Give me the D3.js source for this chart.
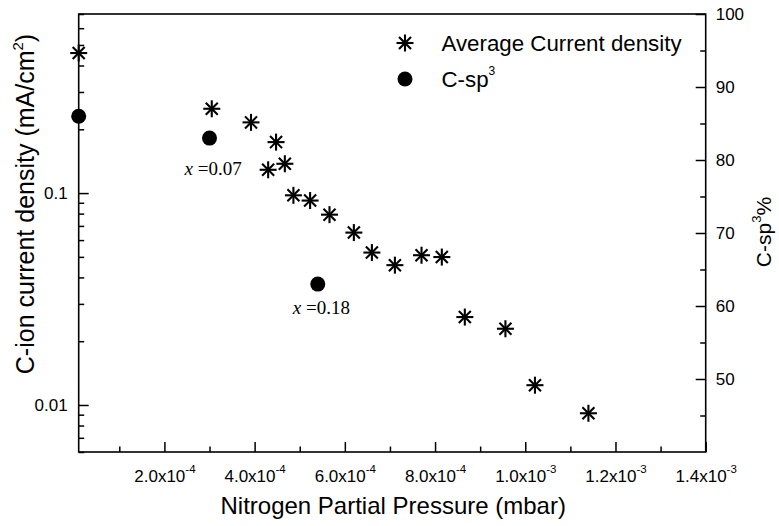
<!DOCTYPE html>
<html>
<head>
<meta charset="utf-8">
<script src="https://cdn.jsdelivr.net/npm/d3@7"></script>
<style>
  body { margin: 0; background: #fff; }
  text { font-family: "Liberation Sans", Arial, sans-serif; fill: #000; }
  .serif { font-family: "Liberation Serif", "Times New Roman", serif; }
</style>
</head>
<body>
<div id="chart"></div>
<script>
// average C-ion current density vs N2 partial pressure (left, log axis)
const pressure = [1.0e-5, 3.05e-4, 3.92e-4, 4.475e-4, 4.30e-4, 4.67e-4, 4.86e-4, 5.23e-4, 5.66e-4,
  6.20e-4, 6.60e-4, 7.11e-4, 7.70e-4, 8.15e-4, 8.66e-4, 9.56e-4, 1.0215e-3, 1.14e-3];
const currentDensity = [0.458, 0.250, 0.2156, 0.174, 0.1288, 0.1375, 0.0976, 0.0922, 0.0791,
  0.0651, 0.0524, 0.0457, 0.0509, 0.0499, 0.0260, 0.0229, 0.0124, 0.00914];

// C-sp3 fraction (right axis)
const sp3Pressure = [1.0e-5, 3.0e-4, 5.4e-4];
const sp3Percent = [86, 83, 63];
const sp3Notes = ['', '0.07', '0.18'];

const xMajor = [2e-4, 4e-4, 6e-4, 8e-4, 1.0e-3, 1.2e-3, 1.4e-3];
const xMinor = [1e-4, 3e-4, 5e-4, 7e-4, 9e-4, 1.1e-3, 1.3e-3];
const xMantissa = ['2.0', '4.0', '6.0', '8.0', '1.0', '1.2', '1.4'];
const xExponent = ['-4', '-4', '-4', '-4', '-3', '-3', '-3'];
const yLeftMajor = [0.01, 0.1];
const yRightMajor = [50, 60, 70, 80, 90, 100];
const yRightMinor = [45, 55, 65, 75, 85, 95];

const width = 779;
const height = 526;
const margin = { top: 14, right: 73.3, bottom: 74, left: 78.7 };
const plotW = width - margin.left - margin.right;
const plotH = height - margin.top - margin.bottom;

const svg = d3.select('#chart')
  .append('svg')
  .attr('width', width)
  .attr('height', height);

const x = d3.scaleLinear()
  .domain([1.0e-5, 1.4e-3])
  .range([margin.left, margin.left + plotW]);

const yLeft = d3.scaleLog()
  .domain([0.006, 0.7])
  .range([margin.top + plotH, margin.top]);

const yRight = d3.scaleLinear()
  .domain([40, 100])
  .range([margin.top + plotH, margin.top]);

const bottom = margin.top + plotH;
const right = margin.left + plotW;

// frame
svg.append('rect')
  .attr('x', margin.left)
  .attr('y', margin.top)
  .attr('width', plotW)
  .attr('height', plotH)
  .attr('fill', 'none')
  .attr('stroke', '#000')
  .attr('stroke-width', 1.6);

function tidy(g) {
  g.select('.domain').remove();
  g.selectAll('.tick line').attr('stroke', '#000').attr('stroke-width', 1.5);
}

// bottom axis, inward ticks
svg.append('g')
  .attr('transform', `translate(0,${bottom})`)
  .call(d3.axisBottom(x).tickValues(xMinor).tickSize(-5.5).tickFormat(''))
  .call(tidy);

const xAx = svg.append('g')
  .attr('transform', `translate(0,${bottom})`)
  .call(d3.axisBottom(x).tickValues(xMajor).tickSize(-10).tickFormat(''))
  .call(tidy);

xAx.selectAll('.tick').each(function (d, i) {
  const t = d3.select(this).append('text')
    .attr('y', 30)
    .attr('text-anchor', 'middle')
    .attr('font-size', 17)
    .attr('fill', '#000');
  t.append('tspan').text(`${xMantissa[i]}x10`);
  t.append('tspan').attr('font-size', 11.5).attr('dy', -9.5).text(xExponent[i]);
});

// left log axis
const minorLog = yLeft.ticks().filter((v) => !yLeftMajor.some((m) => Math.abs(v - m) < 1e-9));
svg.append('g')
  .attr('transform', `translate(${margin.left},0)`)
  .call(d3.axisLeft(yLeft).tickValues(minorLog).tickSize(-5.5).tickFormat(''))
  .call(tidy);

svg.append('g')
  .attr('transform', `translate(${margin.left},0)`)
  .call(d3.axisLeft(yLeft).tickValues(yLeftMajor).tickSize(-10).tickPadding(11)
    .tickFormat((d) => (d === 0.1 ? '0.1' : '0.01')))
  .call(tidy)
  .call((g) => g.selectAll('text').attr('font-size', 17).attr('fill', '#000'));

// right axis
svg.append('g')
  .attr('transform', `translate(${right},0)`)
  .call(d3.axisRight(yRight).tickValues(yRightMinor).tickSize(-5.5).tickFormat(''))
  .call(tidy);

svg.append('g')
  .attr('transform', `translate(${right},0)`)
  .call(d3.axisRight(yRight).tickValues(yRightMajor).tickSize(-10).tickPadding(10))
  .call(tidy)
  .call((g) => g.selectAll('text').attr('font-size', 17).attr('fill', '#000'));

// axis titles
svg.append('text')
  .attr('x', (margin.left + right) / 2 + 1)
  .attr('y', 514)
  .attr('text-anchor', 'middle')
  .attr('font-size', 24)
  .text('Nitrogen Partial Pressure (mbar)');

const yt = svg.append('text')
  .attr('transform', 'translate(33.5,204) rotate(-90)')
  .attr('text-anchor', 'middle')
  .attr('font-size', 25);
yt.append('tspan').text('C-ion current density (mA/cm');
yt.append('tspan').attr('font-size', 15).attr('dy', -11).text('2');
yt.append('tspan').attr('dy', 11).text(')');

const rt = svg.append('text')
  .attr('transform', 'translate(771,232) rotate(-90)')
  .attr('text-anchor', 'middle')
  .attr('font-size', 21);
rt.append('tspan').text('C-sp');
rt.append('tspan').attr('font-size', 13).attr('dy', -10).text('3');
rt.append('tspan').attr('dy', 10).text('%');

// star marker
const starArm = 8.5;
function star(g) {
  [0, 45, 90, 135].forEach((a) => {
    const r = (a * Math.PI) / 180;
    g.append('line')
      .attr('x1', -starArm * Math.cos(r))
      .attr('y1', -starArm * Math.sin(r))
      .attr('x2', starArm * Math.cos(r))
      .attr('y2', starArm * Math.sin(r))
      .attr('stroke', '#000')
      .attr('stroke-width', 2.1);
  });
}

svg.append('g')
  .selectAll('g')
  .data(pressure.map((p, i) => ({ p, v: currentDensity[i] })))
  .join('g')
  .attr('transform', (d) => `translate(${x(d.p)},${yLeft(d.v)})`)
  .each(function () { star(d3.select(this)); });

const sp3 = sp3Pressure.map((p, i) => ({ p, v: sp3Percent[i], note: sp3Notes[i] }));
svg.append('g')
  .selectAll('circle')
  .data(sp3)
  .join('circle')
  .attr('cx', (d) => x(d.p))
  .attr('cy', (d) => yRight(d.v))
  .attr('r', 7.5)
  .attr('fill', '#000');

// x = ... notes under the dots
const noteDy = [0, 37, 30];
sp3.forEach((d, i) => {
  if (!d.note) return;
  const t = svg.append('text')
    .attr('class', 'serif')
    .attr('x', x(d.p) - 25)
    .attr('y', yRight(d.v) + noteDy[i])
    .attr('font-size', 19);
  t.append('tspan').attr('font-style', 'italic').text('x');
  t.append('tspan').text(` =${d.note}`);
});

// legend
const leg = svg.append('g');
const l1 = leg.append('g').attr('transform', 'translate(405,43)');
star(l1);
leg.append('text')
  .attr('x', 441.5)
  .attr('y', 51)
  .attr('font-size', 22.3)
  .text('Average Current density');
leg.append('circle')
  .attr('cx', 405)
  .attr('cy', 79)
  .attr('r', 7.5)
  .attr('fill', '#000');
const l2 = leg.append('text')
  .attr('x', 441.5)
  .attr('y', 87)
  .attr('font-size', 22.3);
l2.append('tspan').text('C-sp');
l2.append('tspan').attr('font-size', 12).attr('dy', -12).text('3');
</script>
</body>
</html>
